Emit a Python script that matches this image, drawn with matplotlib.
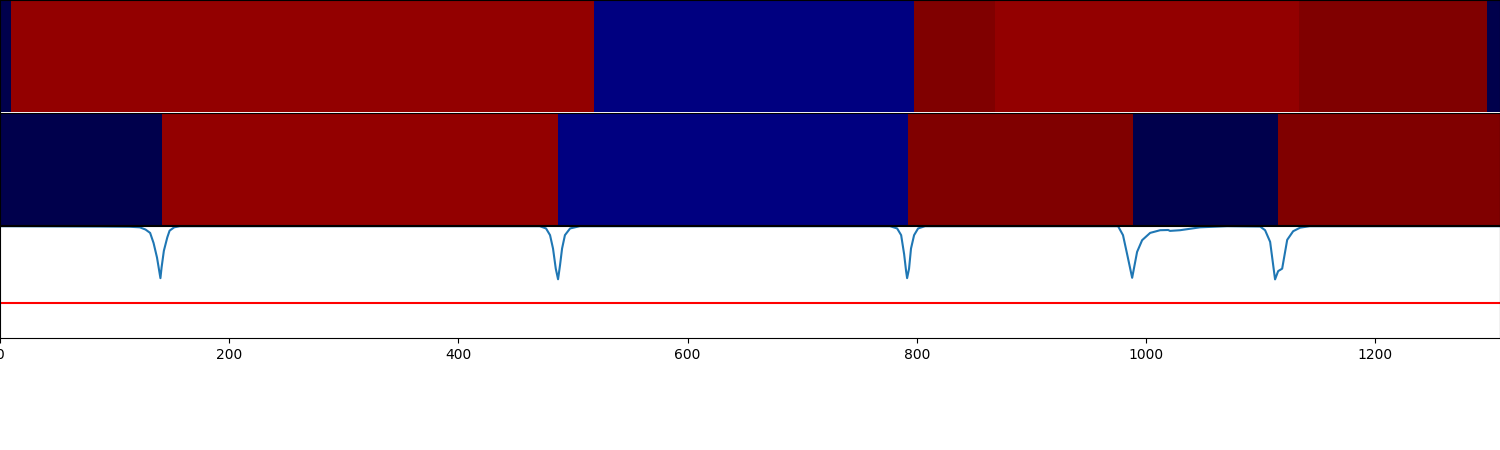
import numpy as np
import matplotlib
matplotlib.use("Agg")
import matplotlib.pyplot as plt
from matplotlib.colors import ListedColormap

n_frames = 1309

# segment boundaries (frame index) and class ids for the two label rows
top_bounds = [0, 10, 518, 798, 868, 1134, 1298, 1309]
top_labels = [0, 2, 1, 3, 2, 3, 0]
bottom_bounds = [0, 141, 487, 792, 989, 1115, 1309]
bottom_labels = [0, 2, 1, 3, 0, 3]

class_colors = ['#00004c', '#000080', '#930000', '#800000']

# boundary score curve
score_x = [0, 87, 113, 122, 127, 131, 134, 137, 140, 141, 143, 146, 148, 152, 157,
           471, 476.5, 480, 482.6, 485, 487, 488.7, 490.5, 493, 497.5, 506,
           776.7, 782.9, 786.4, 789, 790.7, 791.6, 793.3, 795, 797.7, 801.2, 807.3,
           975.7, 980, 983.6, 988, 992.3, 996.7, 1003.7, 1012.4, 1019.4, 1021, 1029.8,
           1047.3, 1070.9, 1099.7, 1104, 1108.4, 1112.7, 1115.4, 1118.9, 1123.3,
           1128.5, 1134.6, 1143, 1309]
score_y = [1.0, 0.997, 0.995, 0.99, 0.97, 0.94, 0.85, 0.72, 0.535, 0.63, 0.78, 0.9, 0.96, 0.99, 1.0,
           1.0, 0.98, 0.92, 0.8, 0.62, 0.525, 0.65, 0.8, 0.92, 0.98, 1.0,
           1.0, 0.98, 0.92, 0.75, 0.6, 0.535, 0.62, 0.8, 0.92, 0.98, 1.0,
           1.0, 0.92, 0.75, 0.538, 0.77, 0.875, 0.94, 0.964, 0.966, 0.958, 0.964,
           0.99, 1.0, 0.997, 0.964, 0.86, 0.524, 0.598, 0.62, 0.878,
           0.955, 0.987, 1.0, 1.0]
threshold = 0.31


def label_row(bounds, labels):
    lengths = np.diff(bounds)
    return np.repeat(labels, lengths)[np.newaxis, :]


fig, axes = plt.subplots(3, 1, figsize=(15, 4.5), sharex=True,
                         gridspec_kw={'hspace': 0.012})
fig.subplots_adjust(left=0, right=1, top=1, bottom=0.249)

cmap = ListedColormap(class_colors)
for ax, bounds, labels in [(axes[0], top_bounds, top_labels),
                           (axes[1], bottom_bounds, bottom_labels)]:
    ax.imshow(label_row(bounds, labels), cmap=cmap, vmin=0, vmax=3,
              aspect='auto', interpolation='nearest',
              extent=[0, n_frames, 0, 1])
    ax.tick_params(left=False, bottom=False, labelleft=False, labelbottom=False)
axes[0].spines['bottom'].set_visible(False)

axes[2].plot(score_x, score_y, color='#1f77b4')
axes[2].axhline(threshold, color='red')
axes[2].set_ylim(0, 1)
axes[2].set_xlim(0, n_frames)
axes[2].tick_params(left=False, labelleft=False)

plt.savefig('out.png', dpi=100)
